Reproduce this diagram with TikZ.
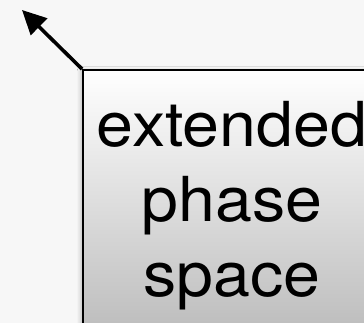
\documentclass[tikz,border=0pt]{standalone}
\usepackage{fontspec}
\setmainfont[FakeStretch=1.07]{TeX Gyre Heros}
\usepackage{xcolor}
\usepackage{tikz}
\usetikzlibrary{positioning,arrows.meta,shadows.blur}

\definecolor{bggray}{HTML}{F7F7F7}

\begin{document}
\begin{tikzpicture}[
    x=1pt, y=1pt,
    space/.style={
        rectangle,
        draw,
        line width=1.8pt,
        top color=white,
        bottom color=black!27,
        align=center,
        minimum width=298pt,
        minimum height=272pt,
        font=\fontsize{62}{75}\selectfont,
        blur shadow={shadow xshift=-2pt, shadow yshift=-1pt,
            shadow blur radius=4pt, shadow opacity=25}
    },
    arrow/.style={
        -{Triangle[length=24pt,width=23pt]},
        line width=3.6pt
    }
]

\fill[bggray] (0,0) rectangle (364,323);
\useasboundingbox (0,0) rectangle (364,323);
\clip (0,0) rectangle (364,323);

\node[space] (phasespace) at (232,117)
{extended\\phase\\space};

\coordinate (out) at (22,313);

\draw[arrow] (phasespace.north west) -- (out);

\end{tikzpicture}
\end{document}
